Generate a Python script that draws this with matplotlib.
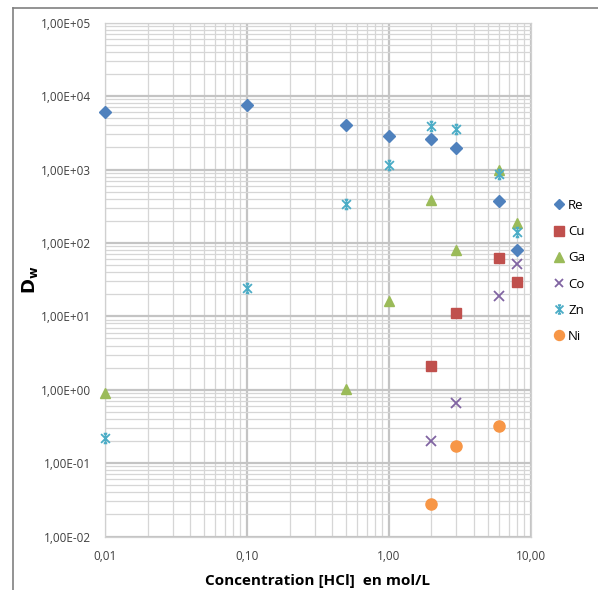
import matplotlib
matplotlib.use("Agg")
import matplotlib.pyplot as plt
from matplotlib.ticker import FixedLocator, FuncFormatter, LogLocator, NullFormatter
from matplotlib.lines import Line2D
from matplotlib.path import Path

plt.rcParams['font.family'] = ['Open Sans', 'DejaVu Sans']

re_x = [0.01, 0.1, 0.5, 1, 2, 3, 6, 8]
re_y = [6100, 7600, 4050, 2870, 2600, 1970, 373, 80]
cu_x = [2, 3, 6, 8]
cu_y = [2.1, 11, 62, 29]
ga_x = [0.01, 0.5, 1, 2, 3, 6, 8]
ga_y = [0.9, 1.02, 16, 380, 80, 1000, 185]
co_x = [2, 3, 6, 8]
co_y = [0.2, 0.65, 19, 52]
zn_x = [0.01, 0.1, 0.5, 1, 2, 3, 6, 8]
zn_y = [0.22, 24, 340, 1150, 3950, 3600, 880, 140]
ni_x = [2, 3, 6]
ni_y = [0.028, 0.17, 0.32]

x_ticks = [0.01, 0.1, 1, 10]
x_labels = ["0,01", "0,10", "1,00", "10,00"]
y_ticks = [1e-2, 1e-1, 1e0, 1e1, 1e2, 1e3, 1e4, 1e5]
y_labels = ["1,00E-02", "1,00E-01", "1,00E+00", "1,00E+01", "1,00E+02",
            "1,00E+03", "1,00E+04", "1,00E+05"]

star = Path([(-1, -1), (1, 1), (-1, 1), (1, -1), (0, -1.1), (0, 1.1),
             (-0.4, 1.1), (0.4, 1.1), (-0.4, -1.1), (0.4, -1.1)],
            [Path.MOVETO, Path.LINETO] * 5)

fig = plt.figure(figsize=(5.98, 5.90), dpi=100)
ax = fig.add_axes([105/598, 1-536.5/590, (530.5-105)/598, (536.5-22.7)/590])

series = [
    ("Re", re_x, re_y, "D", "#4F81BD", 6),
    ("Cu", cu_x, cu_y, "s", "#C0504D", 7.5),
    ("Ga", ga_x, ga_y, "^", "#9BBB59", 7.5),
    ("Co", co_x, co_y, "x", "#8064A2", 7),
    ("Zn", zn_x, zn_y, star, "#4BACC6", 7),
    ("Ni", ni_x, ni_y, "o", "#F79646", 8),
]
handles = []
for name, xs, ys, m, c, s in series:
    if isinstance(m, str) and m != "x":
        ax.plot(xs, ys, linestyle="none", marker=m, markersize=s, color=c,
                markeredgecolor=c, clip_on=False, zorder=3)
        h = Line2D([], [], linestyle="none", marker=m, markersize=s*0.9, color=c)
    else:
        ax.plot(xs, ys, linestyle="none", marker=m, markersize=s, color=c,
                markeredgewidth=1.3, clip_on=False, zorder=3)
        h = Line2D([], [], linestyle="none", marker=m, markersize=s*0.9, color=c, markeredgewidth=1.3)
    handles.append((h, name))

ax.set_xscale("log")
ax.set_yscale("log")
ax.set_xlim(0.01, 10)
ax.set_ylim(1e-2, 1e5)

ax.xaxis.set_major_locator(FixedLocator(x_ticks))
ax.xaxis.set_major_formatter(FuncFormatter(lambda v, p: x_labels[x_ticks.index(v)] if v in x_ticks else ""))
ax.yaxis.set_major_locator(FixedLocator(y_ticks))
ax.yaxis.set_major_formatter(FuncFormatter(lambda v, p: y_labels[y_ticks.index(v)] if v in y_ticks else ""))
ax.xaxis.set_minor_locator(LogLocator(base=10, subs=range(2, 10)))
ax.yaxis.set_minor_locator(LogLocator(base=10, subs=range(2, 10)))
ax.xaxis.set_minor_formatter(NullFormatter())
ax.yaxis.set_minor_formatter(NullFormatter())

ax.grid(which="major", color="#C4C4C4", linewidth=1.6)
ax.grid(which="minor", color="#D6D6D6", linewidth=0.9)
ax.set_axisbelow(True)
for sp in ax.spines.values():
    sp.set_color("#D0D0D0")
    sp.set_linewidth(0.9)
ax.tick_params(which="both", length=0, labelsize=8.5, colors="#404040")
ax.tick_params(axis="x", pad=10)
ax.tick_params(axis="y", pad=10)

ax.set_xlabel("Concentration [HCl]  en mol/L", fontsize=11, fontweight="bold", labelpad=8)
fig.text(30/598, 1-280/590, r"$\mathbf{D_w}$", rotation=90, fontsize=13,
         ha="center", va="center")

fig.legend([h for h, _ in handles], [n for _, n in handles], loc="center left",
           bbox_to_anchor=(539/598, 1-271/590), frameon=False, fontsize=9.5,
           handletextpad=0.1, labelspacing=1.0, handlelength=1.2)

fig.add_artist(Line2D([13/598, 1], [1-8/590, 1-8/590], transform=fig.transFigure, color="#808080", linewidth=1.2))
fig.add_artist(Line2D([13/598, 13/598], [0, 1-8/590], transform=fig.transFigure, color="#808080", linewidth=1.2))

fig.savefig("out.png", dpi=100)
